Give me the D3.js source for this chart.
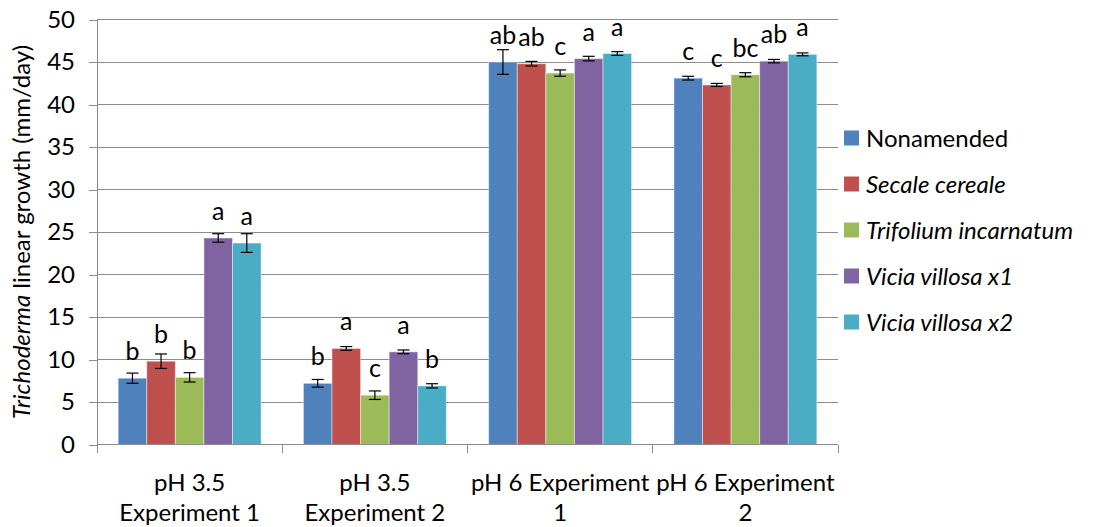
<!DOCTYPE html>
<html>
<head>
<meta charset="utf-8">
<script src="https://cdn.jsdelivr.net/npm/d3@7"></script>
<style>
  html, body { margin: 0; padding: 0; background: #fff; }
  svg { display: block; font-family: Lato, "Liberation Sans", sans-serif; }
</style>
</head>
<body>
<svg id="chart" width="1102" height="527"></svg>
<script>
// Trichoderma linear growth by soil amendment, pH and experiment
const categories = [
  ["pH 3.5", "Experiment 1"],
  ["pH 3.5", "Experiment 2"],
  ["pH 6 Experiment", "1"],
  ["pH 6 Experiment", "2"]
];
const seriesNames = ["Nonamended", "Secale cereale", "Trifolium incarnatum", "Vicia villosa x1", "Vicia villosa x2"];
const seriesItalic = [false, true, true, true, true];
const seriesColors = ["#4F81BD", "#C0504D", "#9BBB59", "#8064A2", "#4BACC6"];

const nonamended   = [7.8, 7.2, 45.0, 43.1];
const secale       = [9.8, 11.3, 44.8, 42.3];
const trifolium    = [7.9, 5.8, 43.7, 43.5];
const viciaX1      = [24.3, 10.9, 45.4, 45.1];
const viciaX2      = [23.7, 6.9, 46.0, 45.9];

const errNonamended = [0.6, 0.45, 1.45, 0.22];
const errSecale     = [0.85, 0.22, 0.27, 0.18];
const errTrifolium  = [0.55, 0.5, 0.37, 0.24];
const errViciaX1    = [0.5, 0.22, 0.27, 0.2];
const errViciaX2    = [1.1, 0.25, 0.22, 0.17];

const lettersNonamended = ["b", "b", "ab", "c"];
const lettersSecale     = ["b", "a", "ab", "c"];
const lettersTrifolium  = ["b", "c", "c", "bc"];
const lettersViciaX1    = ["a", "a", "a", "ab"];
const lettersViciaX2    = ["a", "b", "a", "a"];

const yTicks = [0, 5, 10, 15, 20, 25, 30, 35, 40, 45, 50];

const values  = [nonamended, secale, trifolium, viciaX1, viciaX2];
const errors  = [errNonamended, errSecale, errTrifolium, errViciaX1, errViciaX2];
const letters = [lettersNonamended, lettersSecale, lettersTrifolium, lettersViciaX1, lettersViciaX2];

const FONT = 24;

const svg = d3.select("#chart");
const plot = { left: 97, right: 838, top: 19.5, bottom: 444.5 };

const catKeys = categories.map((c, i) => i);
const x0 = d3.scaleBand().domain(catKeys).range([plot.left, plot.right]).paddingInner(0).paddingOuter(0);
const x1 = d3.scaleBand().domain(d3.range(seriesNames.length)).range([0, x0.bandwidth()])
  .paddingInner(0).paddingOuter(0.74);
const y = d3.scaleLinear().domain([0, 50]).range([plot.bottom, plot.top]);

// horizontal gridlines
svg.append("g")
  .selectAll("line")
  .data(yTicks.filter(t => t > 0))
  .join("line")
  .attr("x1", plot.left).attr("x2", plot.right)
  .attr("y1", d => y(d)).attr("y2", d => y(d))
  .attr("stroke", "#8c8c8c").attr("stroke-width", 1)
  .attr("shape-rendering", "crispEdges");

// y axis
const yAxis = svg.append("g")
  .attr("transform", `translate(${plot.left},0)`)
  .call(d3.axisLeft(y).tickValues(yTicks).tickSize(8).tickPadding(14).tickSizeOuter(0));
yAxis.select(".domain").attr("stroke", "#8c8c8c").attr("shape-rendering", "crispEdges");
yAxis.selectAll(".tick line").attr("stroke", "#8c8c8c").attr("shape-rendering", "crispEdges");
yAxis.selectAll(".tick text")
  .attr("font-size", FONT).attr("fill", "#000")
  .style("font-family", "Lato, 'Liberation Sans', sans-serif");

// bars
const flat = [];
categories.forEach((c, ci) => {
  seriesNames.forEach((s, si) => {
    flat.push({ ci, si, v: values[si][ci], e: errors[si][ci], l: letters[si][ci] });
  });
});

const barG = svg.append("g");
barG.selectAll("rect")
  .data(flat)
  .join("rect")
  .attr("x", d => x0(d.ci) + x1(d.si))
  .attr("width", x1.bandwidth())
  .attr("y", d => y(d.v))
  .attr("height", d => y(0) - y(d.v))
  .attr("fill", d => seriesColors[d.si])
  .attr("stroke", "rgba(255,255,255,0.45)")
  .attr("stroke-width", 1);

// error bars
const errG = svg.append("g").attr("stroke", "#000").attr("stroke-width", 1.2);
flat.forEach(d => {
  const cx = x0(d.ci) + x1(d.si) + x1.bandwidth() / 2;
  const yt = y(d.v + d.e), yb = y(d.v - d.e);
  errG.append("line").attr("x1", cx).attr("x2", cx).attr("y1", yt).attr("y2", yb);
  errG.append("line").attr("x1", cx - 6).attr("x2", cx + 6).attr("y1", yt).attr("y2", yt);
  errG.append("line").attr("x1", cx - 6).attr("x2", cx + 6).attr("y1", yb).attr("y2", yb);
});

// significance letters
svg.append("g")
  .selectAll("text")
  .data(flat)
  .join("text")
  .attr("x", d => x0(d.ci) + x1(d.si) + x1.bandwidth() / 2)
  .attr("y", d => y(d.v) - 18)
  .attr("text-anchor", "middle")
  .attr("font-size", 25)
  .attr("fill", "#000")
  .text(d => d.l);

// x axis baseline and category dividers
const xg = svg.append("g").attr("stroke", "#8c8c8c").attr("shape-rendering", "crispEdges");
xg.append("line").attr("x1", plot.left).attr("x2", plot.right).attr("y1", y(0)).attr("y2", y(0));
catKeys.concat([categories.length]).forEach(i => {
  const xx = i < categories.length ? x0(i) : x0(categories.length - 1) + x0.bandwidth();
  xg.append("line").attr("x1", xx).attr("x2", xx).attr("y1", y(0)).attr("y2", y(0) + 8);
});

// category labels
const catText = svg.append("g")
  .selectAll("text")
  .data(categories)
  .join("text")
  .attr("text-anchor", "middle")
  .attr("font-size", FONT)
  .attr("fill", "#000");
catText.each(function(c, i) {
  const cx = x0(i) + x0.bandwidth() / 2;
  d3.select(this).selectAll("tspan")
    .data(c)
    .join("tspan")
    .attr("x", cx)
    .attr("y", (d, k) => 491 + k * 30)
    .text(d => d);
});

// y axis title
const yt = svg.append("text")
  .attr("transform", `translate(30,${(plot.top + plot.bottom) / 2}) rotate(-90)`)
  .attr("text-anchor", "middle")
  .attr("font-size", FONT)
  .attr("fill", "#000");
yt.append("tspan").attr("font-style", "italic").text("Trichoderma");
yt.append("tspan").text(" linear growth (mm/day)");

// legend
const legend = svg.append("g").attr("transform", "translate(844,138)");
const li = legend.selectAll("g")
  .data(seriesNames)
  .join("g")
  .attr("transform", (d, i) => `translate(0,${i * 46})`);
li.append("rect")
  .attr("x", 0).attr("y", -7.5).attr("width", 15).attr("height", 15)
  .attr("fill", (d, i) => seriesColors[i]);
li.append("text")
  .attr("x", 22).attr("y", 8.5)
  .attr("font-size", FONT)
  .attr("font-style", (d, i) => seriesItalic[i] ? "italic" : "normal")
  .attr("fill", "#000")
  .text(d => d);
</script>
</body>
</html>
